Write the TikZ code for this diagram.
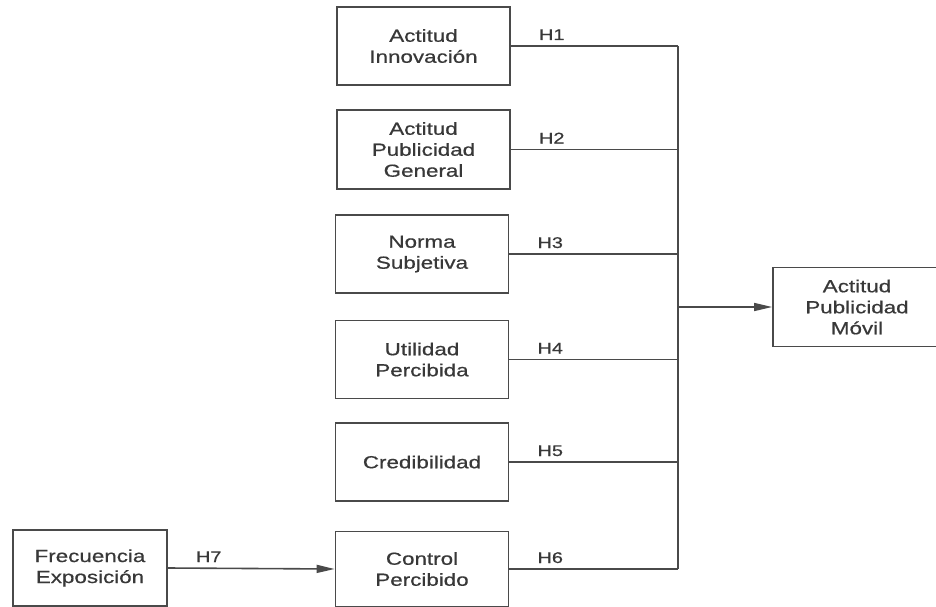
\documentclass[tikz,border=0pt]{standalone}
\usepackage{fontspec}
\setmainfont[FakeStretch=1.28,FakeBold=0.6]{Liberation Sans}
\usetikzlibrary{arrows.meta}
\definecolor{textgray}{HTML}{383838}
\definecolor{linegray}{HTML}{4A4A4A}
\begin{document}
\begin{tikzpicture}[x=1pt,y=-1pt,
  box/.style={draw=linegray, line width=1.8pt, fill=white, minimum width=173pt,
    minimum height=78pt, inner sep=0pt, align=center,
    font=\fontsize{17.5}{21}\selectfont, text=textgray},
  link/.style={draw=linegray, line width=1.6pt},
  tip/.style={-{Triangle[length=18pt,width=8pt]}},
  hlabel/.style={anchor=base west, inner sep=0pt,
    font=\fontsize{15.5}{18}\selectfont, text=textgray}]
\useasboundingbox (0,0) rectangle (936,607);

% antecedent constructs
\node[box] (ai)  at (423.5,46)    {Actitud\\Innovación};
\node[box, minimum height=79pt] (apg) at (423.5,149.5) {Actitud\\Publicidad\\General};
\node[box] (ns)  at (422,254)     {Norma\\Subjetiva};
\node[box] (up)  at (422,359.5)   {Utilidad\\Percibida};
\node[box] (cr)  at (422,462)     {Credibilidad};
\node[box, minimum height=75pt] (cp) at (422,569) {Control\\Percibido};
\node[box, minimum width=154pt, minimum height=76pt] (fe) at (90,568) {Frecuencia\\Exposición};

% outcome construct
\node[box, minimum width=168pt, minimum height=79pt] (apm) at (857,307) {Actitud\\Publicidad\\Móvil};

% collector line
\coordinate (j) at (678,307);
\draw[link] (ai.east -| j) -- (cp.east -| j);
\foreach \n in {ai,apg,ns,up,cr,cp}
  \draw[link] (\n.east) -- (\n.east -| j);
\draw[link, tip] (j) -- (apm.west);
\draw[link, tip] (fe.east) -- (cp.west);

% hypothesis labels
\node[hlabel] (h1) at ([shift={(28,-6)}]ai.east)  {H1};
\node[hlabel] (h2) at ([shift={(28,-6)}]apg.east) {H2};
\node[hlabel] (h3) at ([shift={(28,-6)}]ns.east)  {H3};
\node[hlabel] (h4) at ([shift={(28,-6)}]up.east)  {H4};
\node[hlabel] (h5) at ([shift={(28,-6)}]cr.east)  {H5};
\node[hlabel] (h6) at ([shift={(28,-6)}]cp.east)  {H6};
\node[hlabel] (h7) at ([shift={(28,-6)}]fe.east)  {H7};
\end{tikzpicture}
\end{document}
